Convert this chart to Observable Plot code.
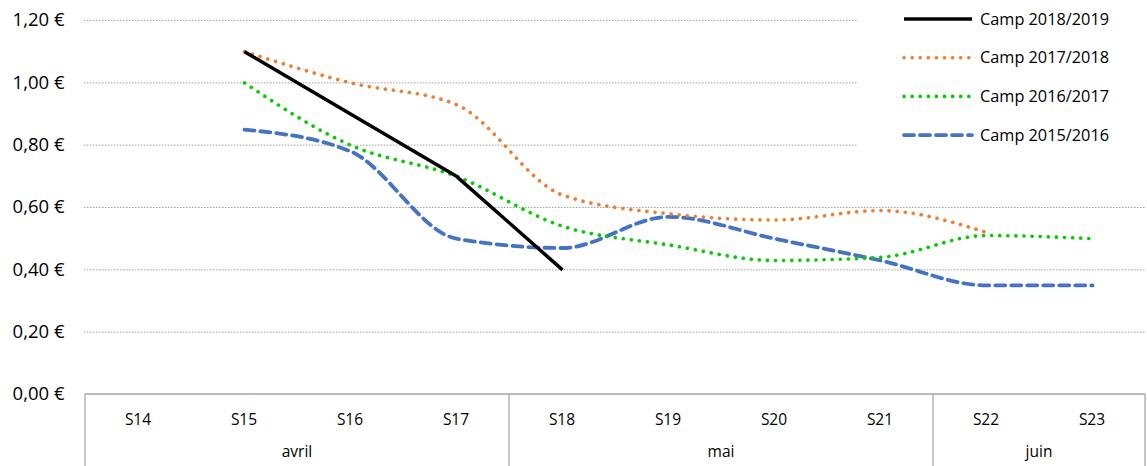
<!DOCTYPE html>
<html>
<head>
<meta charset="utf-8">
<script src="https://cdn.jsdelivr.net/npm/d3@7"></script>
<script src="https://cdn.jsdelivr.net/npm/@observablehq/plot@0.6"></script>
<style>
  body { margin: 0; background: #fff; }
  #chart { position: relative; width: 1147px; height: 466px; }
  svg { font-family: "Open Sans", "Liberation Sans", sans-serif; }
</style>
</head>
<body>
<div id="chart"></div>
<script>
const weeks = ["S14","S15","S16","S17","S18","S19","S20","S21","S22","S23"];
const months = [
  {name: "avril", weeks: ["S14","S15","S16","S17"]},
  {name: "mai", weeks: ["S18","S19","S20","S21"]},
  {name: "juin", weeks: ["S22","S23"]}
];
const yTicks = [0, 0.2, 0.4, 0.6, 0.8, 1.0, 1.2];

const camp1819 = [null, 1.10, 0.90, 0.70, 0.40, null, null, null, null, null];
const camp1718 = [null, 1.10, 1.00, 0.93, 0.64, 0.58, 0.56, 0.59, 0.52, null];
const camp1617 = [null, 1.00, 0.80, 0.70, 0.54, 0.48, 0.43, 0.44, 0.51, 0.50];
const camp1516 = [null, 0.85, 0.78, 0.50, 0.47, 0.57, 0.50, 0.43, 0.35, 0.35];

const series = [
  {name: "Camp 2018/2019", values: camp1819, color: "#000000", width: 3.5, dash: null, cap: "butt", curve: "linear"},
  {name: "Camp 2017/2018", values: camp1718, color: "#ED7D31", width: 3.6, dash: "0.1 8", cap: "round", curve: "monotone-x"},
  {name: "Camp 2016/2017", values: camp1617, color: "#00CC00", width: 3.6, dash: "0.1 8", cap: "round", curve: "monotone-x"},
  {name: "Camp 2015/2016", values: camp1516, color: "#4472C4", width: 3.8, dash: "10 6", cap: "round", curve: "monotone-x"}
];

function rows(s) {
  return weeks.map((w, i) => ({week: w, value: s.values[i]})).filter(d => d.value != null);
}

const fmt = v => v.toFixed(2).replace(".", ",") + " €";

const lineMarks = [...series].reverse().map(s => Plot.line(rows(s), {
  x: "week", y: "value",
  stroke: s.color, strokeWidth: s.width,
  strokeDasharray: s.dash, strokeLinecap: s.cap,
  curve: s.curve
}));

const plot = Plot.plot({
  width: 1147,
  height: 466,
  marginLeft: 84,
  marginRight: 1,
  marginTop: 20,
  marginBottom: 72,
  x: {type: "point", domain: weeks, padding: 0.5, axis: null},
  y: {domain: [0, 1.2], axis: null},
  style: {color: "#000"},
  marks: [
    Plot.ruleY(yTicks.filter(v => v > 0), {stroke: "#a0a0a0", strokeWidth: 1, strokeDasharray: "1.5 1.5"}),
    Plot.axisY(yTicks, {tickFormat: fmt, label: null, tickSize: 0, tickPadding: 20, fontSize: 18.5, fill: "#000"}),
    ...lineMarks
  ]
});

document.getElementById("chart").appendChild(plot);

const svg = d3.select(plot);
const xs = plot.scale("x");
const ys = plot.scale("y");
const step = xs.step;
const y0 = ys.apply(0);
const xl = xs.apply(weeks[0]) - step / 2;
const xr = xs.apply(weeks[weeks.length - 1]) + step / 2;

const axisG = svg.append("g").attr("fill", "#000").style("font-size", "15.5px");
axisG.append("line").attr("x1", xl).attr("x2", xr).attr("y1", y0).attr("y2", y0).attr("stroke", "#a6a6a6").attr("stroke-width", 1.3);
weeks.forEach(w => {
  axisG.append("text").attr("x", xs.apply(w)).attr("y", y0 + 26).attr("dy", "0.35em").attr("text-anchor", "middle").text(w);
});
const bounds = [xl];
months.forEach(m => {
  const a = xs.apply(m.weeks[0]) - step / 2;
  const b = xs.apply(m.weeks[m.weeks.length - 1]) + step / 2;
  bounds.push(b);
  axisG.append("text").attr("x", (a + b) / 2).attr("y", y0 + 58).attr("dy", "0.35em").attr("text-anchor", "middle").text(m.name);
});
bounds.forEach(bx => {
  axisG.append("line").attr("x1", bx).attr("x2", bx).attr("y1", y0).attr("y2", 466).attr("stroke", "#a6a6a6").attr("stroke-width", 1.3);
});

// legend
const leg = svg.append("g");
leg.append("rect").attr("x", 857).attr("y", 0).attr("width", 290).attr("height", 165).attr("fill", "#fff");
series.forEach((s, i) => {
  const ly = 19 + i * 38.7;
  leg.append("line").attr("x1", 904).attr("x2", 972).attr("y1", ly).attr("y2", ly)
    .attr("stroke", s.color).attr("stroke-width", s.width)
    .attr("stroke-dasharray", s.dash).attr("stroke-linecap", s.cap);
  leg.append("text").attr("x", 980).attr("y", ly).attr("dy", "0.35em")
    .attr("text-anchor", "start").attr("fill", "#000")
    .style("font-size", "16.3px").text(s.name);
});
</script>
</body>
</html>
